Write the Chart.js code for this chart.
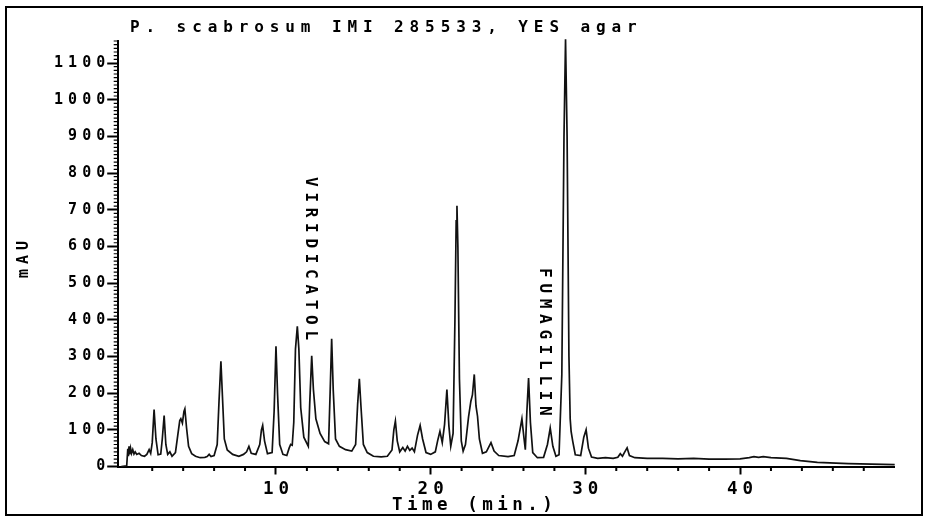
<!DOCTYPE html>
<html><head><meta charset="utf-8">
<script src="https://cdn.jsdelivr.net/npm/chart.js@4.4.1/dist/chart.umd.min.js"></script>
<style>html,body{margin:0;padding:0;background:#fff;}canvas{display:block;}</style>
</head><body>
<canvas id="c" width="928" height="517"></canvas>
<script>
// ---- data ----
const times = [0.00,0.35,0.42,0.46,0.50,0.54,0.60,0.66,0.74,0.82,0.90,1.00,1.15,1.30,1.50,1.65,1.80,1.90,2.00,2.12,2.24,2.38,2.55,2.65,2.77,2.88,3.00,3.14,3.28,3.50,3.65,3.78,3.85,3.95,4.05,4.11,4.22,4.35,4.55,4.80,5.10,5.40,5.55,5.68,5.80,6.00,6.20,6.32,6.44,6.54,6.66,6.85,7.20,7.60,7.90,8.10,8.25,8.40,8.70,8.95,9.06,9.14,9.26,9.45,9.75,9.88,10.00,10.10,10.24,10.45,10.70,10.85,10.95,11.05,11.15,11.26,11.38,11.48,11.60,11.80,12.09,12.18,12.31,12.42,12.58,12.85,13.15,13.40,13.50,13.60,13.70,13.85,14.10,14.50,14.90,15.15,15.28,15.39,15.50,15.65,15.90,16.30,16.80,17.20,17.50,17.62,17.72,17.84,18.00,18.20,18.35,18.50,18.65,18.80,18.95,19.15,19.32,19.48,19.70,20.00,20.30,20.45,20.60,20.75,20.90,21.05,21.18,21.30,21.45,21.57,21.65,21.70,21.76,21.86,21.98,22.10,22.25,22.45,22.60,22.70,22.82,22.93,23.03,23.15,23.35,23.60,23.90,24.10,24.40,25.00,25.40,25.65,25.90,26.04,26.12,26.22,26.33,26.45,26.60,26.90,27.30,27.55,27.73,27.90,28.10,28.30,28.48,28.62,28.72,28.82,28.94,29.02,29.08,29.18,29.35,29.70,29.90,30.05,30.20,30.40,30.80,31.30,31.80,32.10,32.26,32.40,32.55,32.70,32.85,33.20,34.00,35.00,36.00,37.00,38.00,39.00,40.00,40.60,40.90,41.20,41.50,42.00,43.00,43.90,45.00,47.00,50.00];
const mAU = [0,2,48,28,55,33,50,36,46,34,40,33,36,30,28,33,46,36,65,155,75,32,34,75,139,60,33,40,28,38,85,125,130,118,150,157,105,55,35,28,24,25,27,33,27,30,60,180,287,190,75,45,33,28,33,40,55,36,33,60,100,112,70,35,38,150,328,200,60,33,30,50,60,58,120,320,382,320,160,80,55,170,302,210,130,90,68,62,200,348,210,75,55,46,42,60,170,239,160,60,38,28,26,28,45,100,124,70,40,52,42,55,44,50,40,85,112,75,38,33,40,70,96,65,115,210,110,55,90,400,670,711,600,240,70,42,60,135,178,195,251,165,137,75,36,40,65,42,30,27,30,70,130,75,46,150,241,120,38,24,25,60,105,55,28,32,250,900,1165,900,300,130,96,70,32,30,80,100,50,26,22,24,22,25,35,28,40,51,30,24,22,22,21,22,20,20,21,24,27,25,27,24,22,16,11,8,5];
const xTickValues = [10, 20, 30, 40];
const yTickValues = [0, 100, 200, 300, 400, 500, 600, 700, 800, 900, 1000, 1100];
const titleText = "P. scabrosum IMI 285533, YES agar";
const xTitleText = "Time (min.)";
const yTitleText = "mAU";
const peakNames = ["VIRIDICATOL", "FUMAGILLIN"];
const peakNameTimes = [11.94, 27.07];
const peakNameTops = [789, 541];

const FONT = '"DejaVu Sans Mono", "Liberation Mono", monospace';

const decor = {
  id: 'decor',
  beforeDraw(chart) {
    chart.ctx.letterSpacing = '5px';
  },
  afterDraw(chart) {
    const ctx = chart.ctx, xs = chart.scales.x, ys = chart.scales.y;
    const a = chart.chartArea;
    ctx.save();
    ctx.strokeStyle = '#000';
    ctx.fillStyle = '#000';
    // minor ticks x
    ctx.lineWidth = 2;
    ctx.beginPath();
    for (let t = 2; t < 50; t += 2) {
      if (t % 10 === 0) continue;
      const x = xs.getPixelForValue(t);
      ctx.moveTo(x, a.bottom); ctx.lineTo(x, a.bottom + 4.5);
    }
    ctx.stroke();
    // minor ticks y
    ctx.lineWidth = 1.2;
    ctx.beginPath();
    for (let v = 10; v <= 1160; v += 10) {
      if (v % 100 === 0) continue;
      const y = ys.getPixelForValue(v);
      ctx.moveTo(a.left - 4.5, y); ctx.lineTo(a.left, y);
    }
    ctx.stroke();
    // frame
    ctx.lineWidth = 2;
    ctx.strokeRect(6, 7, 916, 508);
    // title
    ctx.textBaseline = 'alphabetic';
    ctx.textAlign = 'left';
    ctx.font = 'bold 16px ' + FONT;
    ctx.letterSpacing = '5.9px';
    ctx.fillText(titleText, 130, 32);
    // x title
    ctx.font = 'bold 17.5px ' + FONT;
    ctx.letterSpacing = '4.5px';
    ctx.fillText(xTitleText, 392, 510);
    // y title
    ctx.font = 'bold 15px ' + FONT;
    ctx.letterSpacing = '5px';
    ctx.save();
    ctx.translate(28, 278);
    ctx.rotate(-Math.PI / 2);
    ctx.fillText(yTitleText, 0, 0);
    ctx.restore();
    // peak names
    ctx.font = 'bold 16px ' + FONT;
    ctx.letterSpacing = '5.7px';
    for (let i = 0; i < peakNames.length; i++) {
      ctx.save();
      ctx.translate(xs.getPixelForValue(peakNameTimes[i]), ys.getPixelForValue(peakNameTops[i]));
      ctx.rotate(Math.PI / 2);
      ctx.fillText(peakNames[i], 0, 0);
      ctx.restore();
    }
    ctx.restore();
  }
};

new Chart(document.getElementById('c'), {
  type: 'line',
  data: {
    datasets: [{
      data: times.map((t, i) => ({ x: t, y: mAU[i] })),
      borderColor: '#111',
      borderWidth: 1.7,
      pointRadius: 0,
      tension: 0,
      fill: false,
      clip: false
    }]
  },
  options: {
    responsive: false,
    animation: false,
    devicePixelRatio: 1,
    layout: { padding: { left: 0, right: 33.3, top: 41, bottom: 0 } },
    plugins: { legend: { display: false }, tooltip: { enabled: false }, title: { display: false } },
    scales: {
      x: {
        type: 'linear', min: -0.2, max: 50,
        afterFit(s) { s.height = 50.5; },
        border: { display: true, color: '#000', width: 2 },
        grid: {
          display: true, drawOnChartArea: false, drawTicks: true, tickLength: 8, tickWidth: 2,
          tickColor: c => (c.tick && xTickValues.includes(c.tick.value)) ? '#000' : 'rgba(0,0,0,0)'
        },
        ticks: {
          stepSize: 10, includeBounds: false, autoSkip: false, maxRotation: 0, minRotation: 0,
          color: '#000', font: { family: FONT, size: 17.5, weight: 'bold' }, padding: 4, labelOffset: 2.5,
          callback: v => xTickValues.includes(v) ? String(v) : ''
        }
      },
      y: {
        type: 'linear', min: 0, max: 1160,
        afterFit(s) { s.width = 118.2; },
        border: { display: true, color: '#000', width: 2 },
        grid: {
          display: true, drawOnChartArea: false, drawTicks: true, tickLength: 11, tickWidth: 2,
          tickColor: c => (c.tick && yTickValues.includes(c.tick.value)) ? '#000' : 'rgba(0,0,0,0)'
        },
        ticks: {
          stepSize: 100, includeBounds: false, autoSkip: false,
          color: '#000', font: { family: FONT, size: 15, weight: 'bold' }, padding: -3,
          callback: v => yTickValues.includes(v) ? String(v) : ''
        }
      }
    }
  },
  plugins: [decor]
});
</script>
</body></html>
